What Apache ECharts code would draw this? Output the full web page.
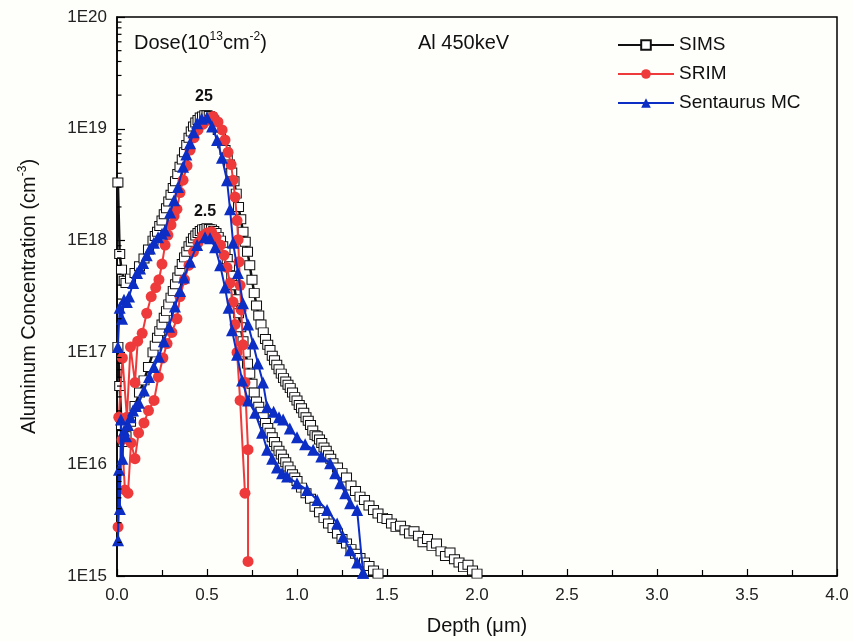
<!DOCTYPE html>
<html>
<head>
<meta charset="utf-8">
<script src="https://cdn.jsdelivr.net/npm/echarts@6/dist/echarts.min.js"></script>
<style>
html,body{margin:0;padding:0;background:#fefefb;}
#chart{width:853px;height:641px;}
</style>
</head>
<body>
<div id="chart"></div>
<script>
// ---- data: [depth (um), concentration (cm^-3)] ----
const simsHigh = [
[0.005,3.31e18],[0.015,7.59e17],[0.025,5.50e17],[0.040,4.37e17],[0.050,4.17e17],[0.075,4.57e17],[0.100,5.13e17],[0.125,5.89e17],[0.150,6.92e17],[0.175,8.32e17],
[0.200,1.00e18],[0.2125,1.10e18],[0.225,1.20e18],[0.2375,1.35e18],[0.250,1.51e18],[0.2625,1.72e18],[0.275,1.95e18],[0.2875,2.24e18],[0.300,2.57e18],[0.3125,2.95e18],
[0.325,3.39e18],[0.3375,3.94e18],[0.350,4.57e18],[0.3625,5.31e18],[0.375,6.17e18],[0.3875,7.16e18],[0.400,8.32e18],[0.4125,9.44e18],[0.425,1.05e19],[0.4375,1.14e19],
[0.450,1.20e19],[0.4625,1.26e19],[0.475,1.29e19],[0.4875,1.32e19],[0.500,1.32e19],[0.5125,1.30e19],[0.525,1.26e19],[0.5375,1.19e19],[0.550,1.10e19],[0.5625,9.77e18],
[0.575,8.51e18],[0.5875,7.41e18],[0.600,6.46e18],[0.6125,5.56e18],[0.625,4.79e18],[0.6375,4.07e18],[0.650,3.39e18],[0.6625,2.63e18],[0.675,2.00e18],[0.6875,1.55e18],
[0.700,1.20e18],[0.7125,9.77e17],[0.725,7.94e17],[0.7375,6.03e17],[0.750,4.47e17],[0.7625,3.39e17],[0.775,2.63e17],[0.7875,2.14e17],[0.800,1.78e17],[0.8125,1.51e17],
[0.825,1.32e17],[0.8375,1.17e17],[0.850,1.05e17],[0.8625,9.33e16],[0.875,8.51e16],[0.8875,7.76e16],[0.900,7.08e16],[0.9125,6.46e16],[0.925,5.89e16],[0.9375,5.50e16],
[0.950,5.13e16],[0.9625,4.79e16],[0.975,4.37e16],[0.9875,3.98e16],[1.000,3.72e16],[1.0125,3.39e16],[1.025,3.16e16],[1.0375,2.88e16],[1.050,2.63e16],[1.0625,2.45e16],
[1.075,2.24e16],[1.0875,2.00e16],[1.100,1.82e16],[1.1125,1.78e16],[1.125,1.66e16],[1.1375,1.55e16],[1.150,1.41e16],[1.1625,1.32e16],[1.175,1.20e16],[1.1875,1.12e16],
[1.200,1.02e16],[1.225,9.33e15],[1.250,8.32e15],[1.275,7.59e15],[1.300,6.46e15],[1.325,5.75e15],[1.350,5.13e15],[1.375,4.79e15],[1.400,4.27e15],[1.425,3.89e15],
[1.450,3.63e15],[1.475,3.31e15],[1.500,3.24e15],[1.525,2.95e15],[1.550,2.75e15],[1.575,2.82e15],[1.600,2.57e15],[1.625,2.40e15],[1.650,2.51e15],[1.675,2.29e15],
[1.700,2.00e15],[1.725,2.14e15],[1.750,1.86e15],[1.775,1.95e15],[1.800,1.66e15],[1.825,1.51e15],[1.850,1.62e15],[1.875,1.41e15],[1.900,1.32e15],[1.925,1.20e15],
[1.950,1.26e15],[1.975,1.12e15],[2.000,1.05e15]
];
const simsLow = [
[0.005,1.12e17],[0.015,5.01e16],[0.025,2.24e16],[0.035,1.58e16],[0.050,1.78e16],[0.075,2.40e16],[0.100,3.31e16],[0.125,4.37e16],[0.150,5.62e16],[0.175,7.41e16],
[0.200,1.00e17],[0.2125,1.15e17],[0.225,1.35e17],[0.2375,1.55e17],[0.250,1.78e17],[0.2625,2.04e17],[0.275,2.34e17],[0.2875,2.69e17],[0.300,3.09e17],[0.3125,3.55e17],
[0.325,4.07e17],[0.3375,4.68e17],[0.350,5.37e17],[0.3625,6.17e17],[0.375,7.08e17],[0.3875,7.94e17],[0.400,8.91e17],[0.4125,9.77e17],[0.425,1.05e18],[0.4375,1.11e18],
[0.450,1.17e18],[0.4625,1.22e18],[0.475,1.26e18],[0.4875,1.27e18],[0.500,1.29e18],[0.5125,1.27e18],[0.525,1.26e18],[0.5375,1.22e18],[0.550,1.17e18],[0.5625,1.08e18],
[0.575,1.00e18],[0.5875,8.91e17],[0.600,7.94e17],[0.6125,6.84e17],[0.625,5.89e17],[0.6375,4.84e17],[0.650,3.98e17],[0.6625,2.99e17],[0.675,2.24e17],[0.6875,1.68e17],
[0.700,1.26e17],[0.7125,1.00e17],[0.725,7.94e16],[0.7375,6.46e16],[0.750,5.25e16],[0.7625,4.37e16],[0.775,3.63e16],[0.7875,3.27e16],[0.800,2.95e16],[0.8125,2.63e16],
[0.825,2.34e16],[0.8375,2.11e16],[0.850,1.91e16],[0.8625,1.74e16],[0.875,1.58e16],[0.8875,1.45e16],[0.900,1.32e16],[0.9125,1.22e16],[0.925,1.12e16],[0.9375,1.04e16],
[0.950,9.55e15],[0.9625,8.81e15],[0.975,8.13e15],[0.9875,7.59e15],[1.000,7.08e15],[1.025,6.17e15],[1.050,5.50e15],[1.075,4.90e15],[1.100,4.17e15],[1.125,3.72e15],
[1.150,3.31e15],[1.175,2.95e15],[1.200,2.69e15],[1.225,2.40e15],[1.250,2.14e15],[1.275,1.95e15],[1.300,1.74e15],[1.325,1.58e15],[1.350,1.45e15],[1.375,1.32e15],
[1.400,1.23e15],[1.425,1.12e15],[1.450,1.05e15]
];
const srimHigh = [
[0.010,2.63e16],[0.030,8.91e16],[0.055,2.63e16],[0.075,1.12e17],[0.100,5.37e16],[0.115,1.26e17],[0.140,1.48e17],[0.165,2.24e17],[0.190,3.16e17],[0.215,3.80e17],
[0.233,4.47e17],[0.250,6.17e17],[0.267,9.12e17],[0.283,1.12e18],[0.300,1.38e18],[0.317,1.66e18],[0.333,1.91e18],[0.350,2.69e18],[0.367,3.47e18],[0.389,4.68e18],
[0.406,6.46e18],[0.428,8.32e18],[0.450,9.77e18],[0.478,1.10e19],[0.506,1.20e19],[0.534,1.29e19],[0.561,1.15e19],[0.584,9.77e18],[0.600,7.94e18],[0.617,6.17e18],
[0.634,4.79e18],[0.645,3.47e18],[0.656,2.45e18],[0.667,1.51e18],[0.673,1.02e18],[0.678,6.46e17],[0.684,3.98e17],[0.690,2.40e17],[0.700,1.17e17],[0.711,5.37e16],
[0.728,1.35e16],[0.728,1.35e15]
];
const srimLow = [
[0.006,2.75e15],[0.028,1.66e16],[0.044,5.89e15],[0.061,5.50e15],[0.078,1.55e16],[0.100,1.12e16],[0.120,1.91e16],[0.150,2.34e16],[0.175,3.02e16],[0.206,3.72e16],
[0.230,6.03e16],[0.255,8.91e16],[0.278,1.20e17],[0.305,1.51e17],[0.333,2.00e17],[0.350,3.16e17],[0.375,4.47e17],[0.400,6.03e17],[0.425,7.94e17],[0.450,9.55e17],
[0.475,1.10e18],[0.500,1.17e18],[0.525,1.20e18],[0.550,1.07e18],[0.575,9.12e17],[0.595,7.41e17],[0.611,5.75e17],[0.628,4.17e17],[0.645,2.82e17],[0.656,1.78e17],
[0.667,1.00e17],[0.684,3.72e16],[0.711,5.50e15]
];
const mcHigh = [
[0.005,1.12e17],[0.015,2.51e17],[0.028,2.00e17],[0.039,2.95e17],[0.055,2.82e17],[0.067,3.16e17],[0.090,4.17e17],[0.111,5.13e17],[0.128,5.62e17],[0.145,6.31e17],
[0.165,7.41e17],[0.183,8.51e17],[0.205,9.55e17],[0.228,1.07e18],[0.250,1.15e18],[0.267,1.23e18],[0.295,1.78e18],[0.317,2.29e18],[0.339,3.02e18],[0.367,4.57e18],
[0.385,5.89e18],[0.406,7.41e18],[0.425,9.33e18],[0.445,1.12e19],[0.470,1.23e19],[0.500,1.26e19],[0.528,1.05e19],[0.556,7.94e18],[0.583,5.50e18],[0.611,3.47e18],
[0.628,1.91e18],[0.645,9.55e17],[0.672,5.13e17],[0.700,2.75e17],[0.728,1.78e17],[0.756,1.20e17],[0.783,7.94e16],[0.811,5.37e16],[0.834,3.24e16],[0.870,2.95e16],
[0.900,2.63e16],[0.923,2.51e16],[0.960,2.09e16],[1.000,1.74e16],[1.045,1.51e16],[1.090,1.35e16],[1.135,1.17e16],[1.184,1.02e16],[1.212,8.32e15],[1.240,6.76e15],
[1.268,5.50e15],[1.295,4.47e15],[1.334,3.89e15],[1.367,1.07e15]
];
const mcLow = [
[0.006,2.09e15],[0.011,8.91e15],[0.016,3.98e15],[0.022,2.51e16],[0.030,1.12e16],[0.040,2.00e16],[0.050,1.78e16],[0.061,2.24e16],[0.075,2.63e16],[0.089,3.02e16],
[0.105,3.31e16],[0.122,3.55e16],[0.150,4.57e16],[0.178,6.03e16],[0.205,7.41e16],[0.233,9.12e16],[0.260,1.26e17],[0.289,1.70e17],[0.322,2.57e17],[0.350,3.55e17],
[0.372,4.68e17],[0.406,6.46e17],[0.445,9.12e17],[0.489,1.07e18],[0.517,1.05e18],[0.545,8.71e17],[0.573,6.03e17],[0.600,3.80e17],[0.620,2.51e17],[0.639,1.58e17],
[0.667,9.55e16],[0.695,5.62e16],[0.728,3.72e16],[0.767,2.88e16],[0.806,1.91e16],[0.834,1.35e16],[0.862,1.12e16],[0.889,9.33e15],[0.917,8.32e15],[0.945,7.76e15],
[1.000,6.76e15],[1.056,5.89e15],[1.112,4.79e15],[1.167,3.89e15],[1.223,2.95e15],[1.256,2.24e15],[1.295,1.70e15],[1.334,1.32e15],[1.367,1.07e15]
];
const seriesNames = ['SIMS', 'SRIM', 'Sentaurus MC'];
const xTickLabels = ['0.0','0.5','1.0','1.5','2.0','2.5','3.0','3.5','4.0'];
const yDecades = [15, 16, 17, 18, 19, 20];
const minorMultipliers = [2, 3, 4, 5, 6, 7, 8, 9];

// minor tick positions for the log axis
const yMinor = [];
yDecades.slice(0, -1).forEach(e => minorMultipliers.forEach(m => yMinor.push([0, m * Math.pow(10, e)])));

const FONT = 'Liberation Sans, Arial, Helvetica, sans-serif';
const BLACK = '#111111', RED = '#ee3a3a', BLUE = '#0c2ec4';

function simsSeries(data) {
  return { name: seriesNames[0], type: 'line', data: data, symbol: 'rect', symbolSize: [10, 9],
    itemStyle: { color: '#ffffff', borderColor: BLACK, borderWidth: 1 },
    lineStyle: { color: BLACK, width: 2.5 }, emphasis: { disabled: true }, animation: false, z: 2 };
}
function srimSeries(data) {
  return { name: seriesNames[1], type: 'line', data: data, symbol: 'circle', symbolSize: 11,
    itemStyle: { color: RED }, lineStyle: { color: RED, width: 2 }, emphasis: { disabled: true }, animation: false, z: 3 };
}
function mcSeries(data) {
  return { name: seriesNames[2], type: 'line', data: data, symbol: 'triangle', symbolSize: 12,
    itemStyle: { color: BLUE }, lineStyle: { color: BLUE, width: 2 }, emphasis: { disabled: true }, animation: false, z: 4 };
}

const chart = echarts.init(document.getElementById('chart'), null, { renderer: 'canvas' });
chart.setOption({
  backgroundColor: '#fefefb',
  animation: false,
  textStyle: { fontFamily: FONT },
  grid: { left: 117, right: 16, top: 17, bottom: 65, show: true, borderColor: '#000', borderWidth: 1.5, backgroundColor: 'transparent' },
  legend: {
    data: seriesNames, orient: 'vertical', left: 612, top: 30, itemWidth: 56, itemHeight: 12, itemGap: 9,
    textStyle: { fontSize: 19, color: '#111', fontFamily: FONT, lineHeight: 20 }, selectedMode: false
  },
  xAxis: {
    type: 'value', min: 0, max: 4, interval: 0.5,
    name: 'Depth (μm)', nameLocation: 'middle', nameGap: 40,
    nameTextStyle: { fontSize: 20, color: '#111', fontFamily: FONT },
    axisLine: { lineStyle: { color: '#000', width: 1.5 } },
    axisTick: { inside: true, length: 7, lineStyle: { color: '#000', width: 1.2 } },
    minorTick: { show: true, splitNumber: 2, length: 6, lineStyle: { color: '#000', width: 1.2 } },
    splitLine: { show: false },
    axisLabel: { fontSize: 17, color: '#222', margin: 11, formatter: (v) => xTickLabels[Math.round(v / 0.5)] }
  },
  yAxis: {
    type: 'log', logBase: 10, min: 1e15, max: 1e20,
    name: '{a|Aluminum Concentration (cm}{s|-3}{a|)}', nameLocation: 'middle', nameGap: 76,
    nameTextStyle: { fontFamily: FONT, rich: {
      a: { fontSize: 20, color: '#111', fontFamily: FONT, lineHeight: 24 },
      s: { fontSize: 12, color: '#111', fontFamily: FONT, verticalAlign: 'top', lineHeight: 14 } } },
    axisLine: { lineStyle: { color: '#000', width: 1.5 } },
    axisTick: { inside: true, length: 8, lineStyle: { color: '#000', width: 1.2 } },
    splitLine: { show: false },
    axisLabel: { fontSize: 17, color: '#222', margin: 10, formatter: (v) => '1E' + Math.round(Math.log10(v)) }
  },
  graphic: [
    { type: 'text', left: 134, top: 31, style: { text: '{a|Dose(10}{s|13}{a|cm}{s|-2}{a|)}', rich: {
        a: { fontSize: 20, fill: '#111', fontFamily: FONT, lineHeight: 24 },
        s: { fontSize: 12, fill: '#111', fontFamily: FONT, verticalAlign: 'top', lineHeight: 14 } } } },
    { type: 'text', left: 418, top: 33, style: { text: 'Al 450keV', fontSize: 20, fill: '#111', fontFamily: FONT } },
    { type: 'text', x: 204, y: 97, style: { text: '25', fontSize: 16, fontWeight: 'bold', fill: '#111', fontFamily: FONT, align: 'center', verticalAlign: 'middle' } },
    { type: 'text', x: 205, y: 212, style: { text: '2.5', fontSize: 16, fontWeight: 'bold', fill: '#111', fontFamily: FONT, align: 'center', verticalAlign: 'middle' } }
  ],
  series: [
    simsSeries(simsHigh), simsSeries(simsLow),
    srimSeries(srimHigh), srimSeries(srimLow),
    mcSeries(mcHigh), mcSeries(mcLow),
    { type: 'custom', data: yMinor, silent: true, z: 10, animation: false,
      renderItem: function (params, api) {
        const p = api.coord([api.value(0), api.value(1)]);
        return { type: 'line', shape: { x1: p[0], y1: p[1], x2: p[0] + 4.5, y2: p[1] },
          style: { stroke: '#000', lineWidth: 1.2 } };
      } }
  ]
});
</script>
</body>
</html>
